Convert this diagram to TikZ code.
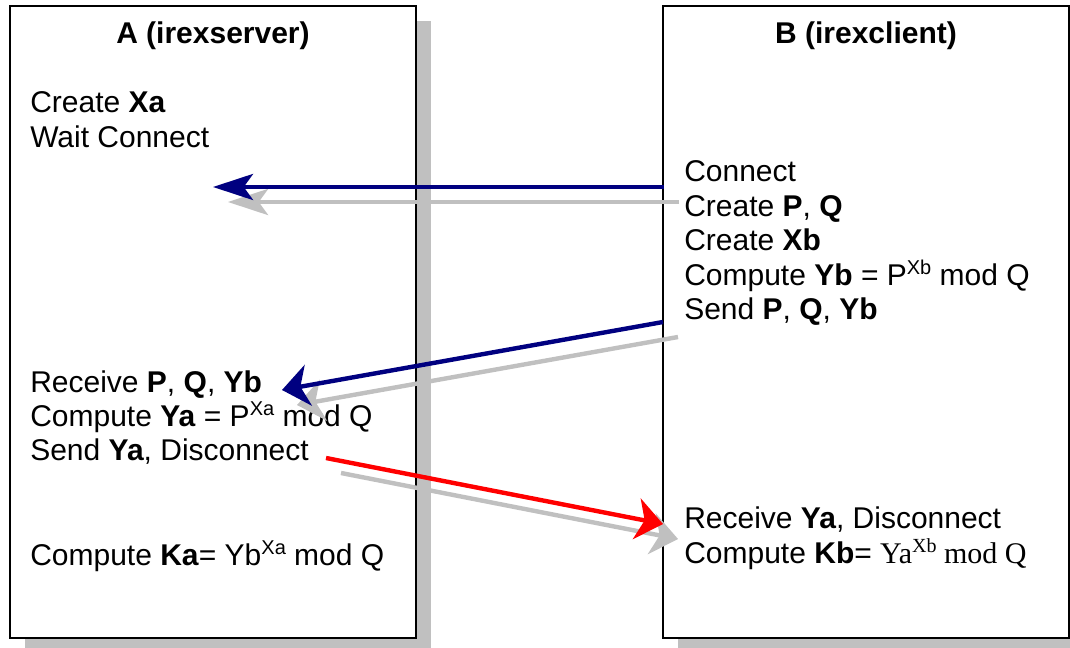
\documentclass[tikz,border=0pt]{standalone}
\usepackage{fontspec}
\setmainfont{Liberation Sans}
\newfontfamily\tms{Liberation Serif}
\usetikzlibrary{arrows.meta}
\definecolor{navyc}{RGB}{0,0,128}
\definecolor{shadowc}{RGB}{192,192,192}
\definecolor{redc}{RGB}{255,0,0}
\newcommand{\sups}[1]{\raisebox{8pt}{\fontsize{15}{15}\selectfont #1}}
\begin{document}
\begin{tikzpicture}[x=0.75pt,y=-0.75pt,
  lane/.style={draw=black,line width=1.5pt,fill=white,minimum width=304.5pt,minimum height=474pt,inner sep=0pt,outer sep=0pt},
  lshadow/.style={fill=shadowc,minimum width=304.5pt,minimum height=474pt,inner sep=0pt,outer sep=0pt},
  txt/.style={anchor=base west,inner sep=0pt,font=\fontsize{22.5}{27}\selectfont},
  ttl/.style={anchor=base,inner sep=0pt,font=\fontsize{22.5}{27}\selectfont\bfseries},
  msg/.style={line width=3.3pt},
  headA/.style={-{Stealth[length=30pt,width=19.5pt,inset=7pt]}},
  headB/.style={-{Stealth[length=20pt,width=31pt,inset=6pt]}},
]
\clip (0,0) rectangle (1070,648);
\useasboundingbox (0,0) rectangle (1070,648);
% shadows
\node[lshadow] (Ash) at (228,337) {};
\node[lshadow] (Bsh) at (881,337) {};
% lanes
\node[lane] (A) at (213,322) {};
\node[lane] (B) at (866,322) {};
% titles
\node[ttl] (At) at (213,43.5) {A (irexserver)};
\node[ttl] (Bt) at (866,43.5) {B (irexclient)};
% A texts
\node[txt] (a1) at (30,113) {Create \textbf{Xa}};
\node[txt] (a2) at (30,147.5) {Wait Connect};
\node[txt] (a3) at (30,392.5) {Receive \textbf{P}, \textbf{Q}, \textbf{Yb}};
\node[txt] (a4) at (30,426.5) {Compute \textbf{Ya} = P\sups{Xa} mod Q};
\node[txt] (a5) at (30,460.5) {Send \textbf{Ya}, Disconnect};
\node[txt] (a6) at (30,565) {Compute \textbf{Ka}= Yb\sups{Xa} mod Q};
% B texts
\node[txt] (b1) at (684,182) {Connect};
\node[txt] (b2) at (684,216.5) {Create \textbf{P}, \textbf{Q}};
\node[txt] (b3) at (684,251) {Create \textbf{Xb}};
\node[txt] (b4) at (684,285.5) {Compute \textbf{Yb} = P\sups{Xb} mod Q};
\node[txt] (b5) at (684,320) {Send \textbf{P}, \textbf{Q}, \textbf{Yb}};
\node[txt] (b6) at (684,528.5) {Receive \textbf{Ya}, Disconnect};
\node[txt] (b7) at (684,563) {Compute \textbf{Kb}= {\tms Ya\sups{Xb} mod Q}};
% connector end points
\coordinate (s1) at (664,187);   \coordinate (e1) at (213,187);
\coordinate (s1g) at (679,202);  \coordinate (e1g) at (228,202);
\coordinate (s2) at (663,322);   \coordinate (e2) at (282,390);
\coordinate (s2g) at (678,337);  \coordinate (e2g) at (297,405);
\coordinate (s3) at (326,458);   \coordinate (e3) at (663,524);
\coordinate (s3g) at (341,473);  \coordinate (e3g) at (678,539);
% shadow arrows
\draw[msg,shadowc,headA] (s1g) -- (e1g);
\draw[msg,shadowc,headB] (s2g) -- (e2g);
\draw[msg,shadowc,headB] (s3g) -- (e3g);
% message arrows
\draw[msg,navyc,headA] (s1) -- (e1);
\draw[msg,navyc,headB] (s2) -- (e2);
\draw[msg,redc,headB] (s3) -- (e3);
\end{tikzpicture}
\end{document}
